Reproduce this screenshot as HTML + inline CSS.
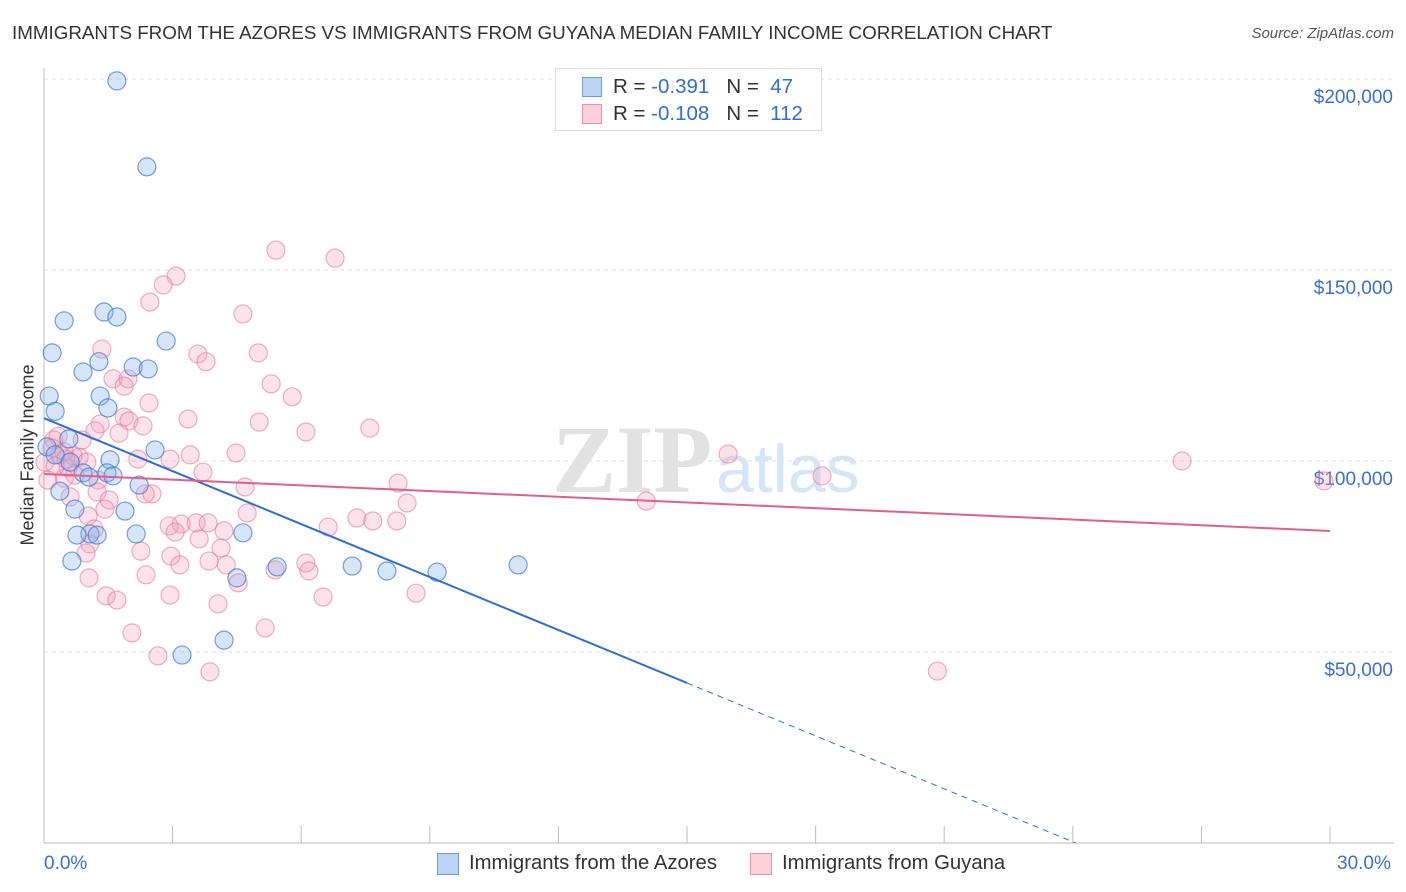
<!DOCTYPE html>
<html><head><meta charset="utf-8"><style>
body{margin:0;background:#fff;font-family:"Liberation Sans",sans-serif;}
#wrap{position:relative;width:1406px;height:892px;overflow:hidden;}
.t{position:absolute;white-space:nowrap;}
</style></head><body>
<div id="wrap">
<div class="t" style="left:12px;top:22px;font-size:18.8px;color:#333;">IMMIGRANTS FROM THE AZORES VS IMMIGRANTS FROM GUYANA MEDIAN FAMILY INCOME CORRELATION CHART</div>
<div class="t" style="right:12px;top:25px;font-size:15px;color:#555;font-style:italic;">Source: ZipAtlas.com</div>
<svg id="svg" width="1406" height="892" style="position:absolute;left:0;top:0"></svg>
</div>
<script>
const blueX=[1.70,2.40,0.47,1.40,1.70,0.19,2.85,1.28,2.08,2.43,0.91,0.12,1.31,0.26,1.49,0.58,2.59,0.07,0.26,1.54,0.61,0.91,1.05,1.47,1.61,2.22,0.37,0.72,1.89,1.07,0.77,1.24,2.15,4.64,0.65,5.44,7.19,8.00,9.17,11.06,4.50,4.20,3.22];
const blueY=[199.5,177,136.7,139,137.7,128.3,131.4,126,124.6,124.1,123.3,117,117,113,113.9,105.8,102.9,103.7,101.6,100.3,99.7,96.9,95.8,96.9,96.1,93.7,92.1,87.4,86.9,80.9,80.6,80.6,80.9,81.2,73.8,72.3,72.5,71.2,70.9,72.8,69.4,53.1,49.2];
const pinkX=[5.41,6.79,3.08,2.78,2.47,4.64,1.35,3.59,5.0,3.78,1.61,1.96,5.30,1.87,5.79,2.45,1.87,3.36,1.98,5.02,1.31,2.31,7.60,6.11,1.19,1.75,0.89,0.23,4.48,15.96,3.41,2.19,2.94,26.55,0.82,0.37,0.02,0.56,3.71,18.15,8.26,29.86,1.26,4.69,2.52,2.36,1.24,0.61,1.52,14.05,8.47,4.74,1.42,1.03,7.30,7.67,8.23,3.20,2.92,3.55,3.83,6.63,1.17,3.06,4.20,3.62,1.07,4.13,2.26,0.98,2.96,6.11,3.17,4.25,3.85,5.39,6.18,2.38,1.05,4.53,6.51,1.45,8.68,2.94,1.70,4.06,5.16,2.05,2.66,3.87,20.84,0.33,0.19,0.47,0.68,0.26,0.51,1.0,0.72,0.47,0.09];
const pinkY=[155.2,153.1,148.4,146.1,141.6,138.5,129.3,128,128.3,126,121.5,121.5,120.2,119.6,116.8,115.2,111.5,111,110.5,110.2,109.7,109.2,108.6,107.6,107.9,107.3,105.5,105.5,102.1,101.8,101.6,100.5,100.5,100,101,101.6,99.7,98.2,97.1,96.1,94.2,94.8,95,93.2,91.4,91.4,91.9,90.6,89.8,89.5,89,86.4,87.4,85.6,85.1,84.3,84.3,83.5,83,83.8,83.8,82.7,82.2,81.4,81.7,79.6,78.3,77.2,76.4,75.9,75.1,73.3,72.8,72.8,73.8,71.5,71.2,70.2,69.4,68.1,64.4,64.7,65.4,64.9,63.6,62.6,56.3,55,49,44.8,45,106.5,103.4,102.4,101.3,98.7,100.5,99.7,96.3,95.5,95];
const yTicks=[50,100,150,200];
const yTickLabels=["$50,000","$100,000","$150,000","$200,000"];
const blueTrend=[111.2,-4.62]; // intercept, slope per %
const pinkTrend=[96.6,-0.497];
const X0=44,X1=1330,Y0=843;
const sx=v=>X0+(v/30)*(X1-X0);
const sy=v=>Y0-v*(191/50);
const svg=document.getElementById('svg');
const NS='http://www.w3.org/2000/svg';
function mk(tag,attrs,name){const e=document.createElementNS(NS,tag);for(const k in attrs)e.setAttribute(k,attrs[k]);


svg.appendChild(e);return e;}
yTicks.forEach((v,i)=>{
 mk('line',{x1:X0,x2:1394,y1:sy(v),y2:sy(v),stroke:'#ddd','stroke-dasharray':'4,4'},'gridline');
 const t=mk('text',{x:1393,y:sy(v)+24,'text-anchor':'end','font-size':19,fill:'#3b6fd4','font-family':'Liberation Sans'},'y-tick-label');t.textContent=yTickLabels[i];
});
mk('line',{x1:X0,x2:X0,y1:68,y2:Y0,stroke:'#bbb'},'y-axis');
mk('line',{x1:X0,x2:1394,y1:Y0,y2:Y0,stroke:'#bbb'},'x-axis');
for(let i=0;i<=10;i++){mk('line',{x1:sx(i*3),x2:sx(i*3),y1:826,y2:Y0,stroke:'#bbb'},'x-tick');}
const wm=mk('text',{x:552,y:492,'font-size':96,fill:'#e2e2e2','font-family':'Liberation Serif','font-weight':'bold'},'watermark-zip');wm.textContent='ZIP';
const wm2=mk('text',{x:716,y:492,'font-size':68,fill:'#d6e5f7','font-family':'Liberation Sans'},'watermark-atlas');wm2.textContent='atlas';
pinkX.forEach((x,i)=>{mk('circle',{cx:sx(x),cy:sy(pinkY[i]),r:9,fill:'rgba(244,160,186,0.3)',stroke:'rgba(230,120,155,0.6)','stroke-width':1.2},'guyana-point');});
blueX.forEach((x,i)=>{mk('circle',{cx:sx(x),cy:sy(blueY[i]),r:9,fill:'rgba(140,180,235,0.35)',stroke:'rgba(60,120,210,0.7)','stroke-width':1.2},'azores-point');});
const bz=-blueTrend[0]/blueTrend[1];
mk('line',{x1:sx(0),y1:sy(blueTrend[0]),x2:sx(15),y2:sy(blueTrend[0]+blueTrend[1]*15),stroke:'#2e6fd6','stroke-width':2},'azores-trend-line');
mk('line',{x1:sx(15),y1:sy(blueTrend[0]+blueTrend[1]*15),x2:sx(bz),y2:sy(0),stroke:'#2e6fd6','stroke-width':1,'stroke-dasharray':'6,5'},'azores-trend-extension');
mk('line',{x1:sx(0),y1:sy(pinkTrend[0]),x2:sx(30),y2:sy(pinkTrend[0]+pinkTrend[1]*30),stroke:'#e0608c','stroke-width':2},'guyana-trend-line');
</script>
<div class="t" style="left:555px;top:68px;width:265px;height:61px;border:1px solid #ddd;background:#fff;">
 <div class="t" style="left:26px;top:8px;width:18px;height:18px;background:#bcd4f5;border:1px solid #6a9ee0;"></div>
 <div class="t" style="left:57px;top:6px;font-size:20.5px;color:#333;">R = <span style="color:#2e6fd6">-0.391</span>&nbsp;&nbsp;&nbsp;N = &nbsp;<span style="color:#2e6fd6">47</span></div>
 <div class="t" style="left:26px;top:35px;width:18px;height:18px;background:#fbcfdc;border:1px solid #e890ae;"></div>
 <div class="t" style="left:57px;top:33px;font-size:20.5px;color:#333;">R = <span style="color:#2e6fd6">-0.108</span>&nbsp;&nbsp;&nbsp;N = &nbsp;<span style="color:#2e6fd6">112</span></div>
</div>
<div class="t" style="left:18px;top:455px;transform:translate(-50%,-50%) rotate(-90deg);transform-origin:center;font-size:18px;color:#333;margin-left:10px;">Median Family Income</div>
<div class="t" style="left:44px;top:853px;font-size:19px;color:#3b6fd4;">0.0%</div>
<div class="t" style="left:1337px;top:853px;font-size:19px;color:#3b6fd4;">30.0%</div>
<div class="t" style="left:437px;top:853px;width:20px;height:20px;background:#bcd4f5;border:1px solid #6a9ee0;"></div>
<div class="t" style="left:469px;top:852px;font-size:20.3px;color:#333;">Immigrants from the Azores</div>
<div class="t" style="left:750px;top:853px;width:20px;height:20px;background:#fbcfdc;border:1px solid #e890ae;"></div>
<div class="t" style="left:782px;top:852px;font-size:20.3px;color:#333;">Immigrants from Guyana</div>
</body></html>
